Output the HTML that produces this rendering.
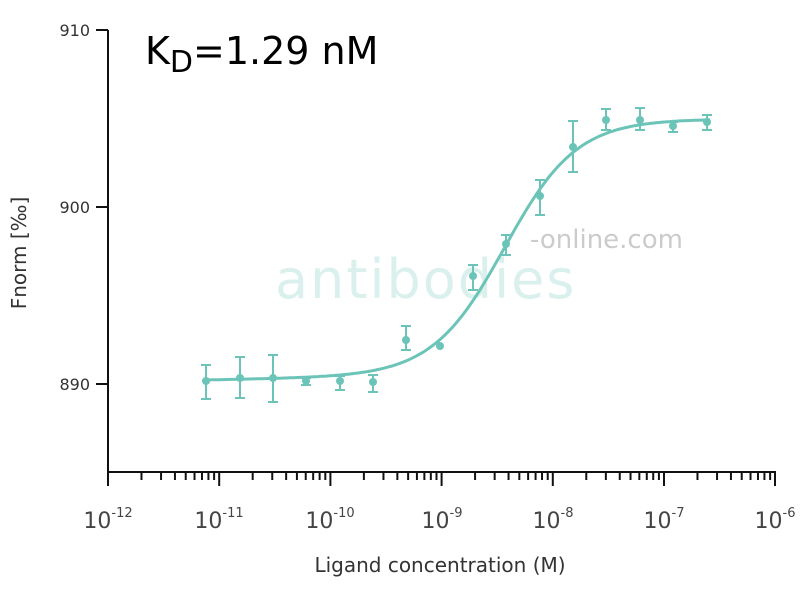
<!DOCTYPE html><html><head><style>body{margin:0;background:#fff}svg{display:block}text{font-family:"DejaVu Sans","Liberation Sans",sans-serif}</style></head><body>
<svg width="800" height="600" xmlns="http://www.w3.org/2000/svg">
<text x="275" y="298" font-size="54" fill="#5cbfb2" opacity="0.22" letter-spacing="2">antibodies</text>
<text x="530" y="248" font-size="26" fill="#999" opacity="0.5">-online.com</text>
<g stroke="#111" stroke-width="2" fill="none">
<line x1="108" y1="30" x2="108" y2="473"/>
<line x1="107" y1="472" x2="776" y2="472"/>
<line x1="96" y1="30" x2="108" y2="30"/><line x1="96" y1="207" x2="108" y2="207"/><line x1="96" y1="384" x2="108" y2="384"/>
</g>
<g id="ticks" stroke="#111" stroke-width="2"></g>
<g font-size="16" fill="#333" text-anchor="end"><text x="90" y="36">910</text><text x="90" y="213">900</text><text x="90" y="390">890</text></g>
<g font-size="22" fill="#444" text-anchor="middle">
<text x="108" y="528">10<tspan font-size="13" dy="-11">-12</tspan></text>
<text x="219" y="528">10<tspan font-size="13" dy="-11">-11</tspan></text>
<text x="330" y="528">10<tspan font-size="13" dy="-11">-10</tspan></text>
<text x="442" y="528">10<tspan font-size="13" dy="-11">-9</tspan></text>
<text x="553" y="528">10<tspan font-size="13" dy="-11">-8</tspan></text>
<text x="664" y="528">10<tspan font-size="13" dy="-11">-7</tspan></text>
<text x="775" y="528">10<tspan font-size="13" dy="-11">-6</tspan></text>
</g>
<text x="440" y="572" font-size="20" fill="#333" text-anchor="middle">Ligand concentration (M)</text>
<text transform="translate(26,253) rotate(-90)" font-size="20" fill="#333" text-anchor="middle">Fnorm [‰]</text>
<text x="145" y="64" font-size="38" fill="#000">K<tspan font-size="30" dy="8">D</tspan><tspan dy="-8">=1.29 nM</tspan></text>
<path id="curve" fill="none" stroke="#6cc4b8" stroke-width="3"/>
<g id="pts" fill="#6cc4b8" stroke="#6cc4b8" stroke-width="2"></g>
<script>
var ns="http://www.w3.org/2000/svg";
function el(p,t,a){var e=document.createElementNS(ns,t);for(var k in a)e.setAttribute(k,a[k]);document.getElementById(p).appendChild(e);return e;}
for(var d=0;d<6;d++){var x0=108+d*111.2;el("ticks","line",{x1:x0,y1:472,x2:x0,y2:486});
for(var m=2;m<10;m++){var x=x0+Math.log10(m)*111.2;el("ticks","line",{x1:x,y1:472,x2:x,y2:480});}}
el("ticks","line",{x1:775,y1:472,x2:775,y2:486});
var p="";for(var x=204;x<=710;x+=2){var base=380-(x-206)*0.018;var y=base-(base-119)/(1+Math.exp(-(x-505)/36));p+=(x==204?"M":"L")+x+" "+y.toFixed(1);}
document.getElementById("curve").setAttribute("d",p);
var D=[[206,381,365,399],[240,378,357,398],[273,378,355,402],[306,381,378,385],[340,381,376,390],[373,382,375,392],[406,340,326,350],[440,346,346,346],[473,276,265,290],[506,244,235,255],[540,196,180,215],[573,147,121,172],[606,120,109,130],[640,120,108,130],[673,126,122,132],[707,122,115,130]];
D.forEach(function(a){if(a[3]-a[2]>2){el("pts","line",{x1:a[0],y1:a[2],x2:a[0],y2:a[3]});el("pts","line",{x1:a[0]-5,y1:a[2],x2:a[0]+5,y2:a[2]});el("pts","line",{x1:a[0]-5,y1:a[3],x2:a[0]+5,y2:a[3]});}
el("pts","circle",{cx:a[0],cy:a[1],r:4,stroke:"none"});});
</script>
</svg></body></html>
